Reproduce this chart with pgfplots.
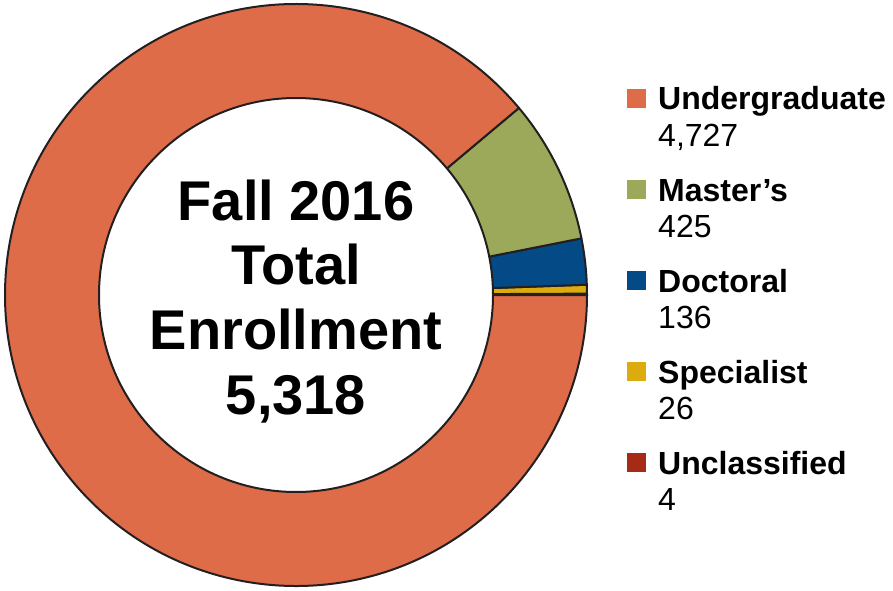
\documentclass[border=0pt]{standalone}
\usepackage{fontspec}
\setmainfont{Liberation Sans}
\usepackage{pgfplots}
\usepackage{pgfplotstable}
\pgfplotsset{compat=1.18}
\definecolor{cUnder}{HTML}{DE6C49}
\definecolor{cMaster}{HTML}{9CA85A}
\definecolor{cDoc}{HTML}{034A87}
\definecolor{cSpec}{HTML}{DCAC0F}
\definecolor{cUncl}{HTML}{A62B17}
\definecolor{edge}{HTML}{231F20}
\newcommand\legfont{\bfseries\fontsize{32}{38}\selectfont}
\newcommand\numfont{\fontsize{32}{38}\selectfont}
\newcommand\cenfont{\bfseries\fontsize{56}{64}\selectfont}
\pgfplotstableread{
name value color
Undergraduate 4727 cUnder
Master’s 425 cMaster
Doctoral 136 cDoc
Specialist 26 cSpec
Unclassified 4 cUncl
}\datatable
\begin{document}
\begin{tikzpicture}
\begin{axis}[x=1pt,y=1pt,xmin=0,xmax=893,ymin=0,ymax=590,hide axis,clip=false,scale only axis]
\coordinate (LL) at (rel axis cs:0,0);
\coordinate (UR) at (rel axis cs:1,1);
\pgfplotsextra{%
  \def\total{0}%
  \pgfplotsforeachungrouped \i in {0,1,2,3,4}{%
    \pgfplotstablegetelem{\i}{value}\of\datatable
    \pgfmathsetmacro\total{\total+\pgfplotsretval}%
  }%
  \def\cum{0}%
  \pgfplotsforeachungrouped \i in {4,3,2,1,0}{%
    \pgfplotstablegetelem{\i}{value}\of\datatable
    \pgfmathsetmacro\aE{\cum+360*(\pgfplotsretval/\total)}%
    \pgfplotstablegetelem{\i}{color}\of\datatable
    \edef\col{\pgfplotsretval}%
    \edef\act{\noexpand\filldraw[fill=\col, draw=edge, line width=2pt, line join=round]
      (axis cs:{296+291*cos(\cum)},{295+291*sin(\cum)})
      arc[start angle=\cum, end angle=\aE, radius=291pt]
      -- (axis cs:{296+197*cos(\aE)},{295+197*sin(\aE)})
      arc[start angle=\aE, end angle=\cum, radius=197pt] -- cycle;}%
    \act
    \let\cum\aE
  }%
  \pgfplotsforeachungrouped \i in {0,1,2,3,4}{%
    \pgfmathsetmacro\yc{590-98.5-91*\i}%
    \pgfplotstablegetelem{\i}{color}\of\datatable
    \edef\col{\pgfplotsretval}%
    \pgfplotstablegetelem{\i}{name}\of\datatable
    \edef\nm{\pgfplotsretval}%
    \pgfplotstablegetelem{\i}{value}\of\datatable
    \edef\vl{\pgfplotsretval}%
    \edef\act{\noexpand\fill[\col] (axis cs:627,{\yc-9.5}) rectangle (axis cs:646,{\yc+9.5});
      \noexpand\node[anchor=base west, inner sep=0pt, font=\noexpand\legfont] at (axis cs:658,{\yc-11.5}) {\nm};
      \noexpand\node[anchor=base west, inner sep=0pt, font=\noexpand\numfont] at (axis cs:658,{\yc-47.5}) {\noexpand\pgfmathprintnumber[assume math mode=true,1000 sep={,}]{\vl}};}%
    \act
  }%
}
\node[anchor=base, inner sep=0pt, font=\cenfont] at (axis cs:296,370) {Fall 2016};
\node[anchor=base, inner sep=0pt, font=\cenfont] at (axis cs:296,305.5) {Total};
\node[anchor=base, inner sep=0pt, font=\cenfont] at (axis cs:296,241) {Enrollment};
\node[anchor=base, inner sep=0pt, font=\cenfont] at (axis cs:296,176) {5,318};
\end{axis}
\pgfresetboundingbox
\useasboundingbox (LL) rectangle (UR);
\end{tikzpicture}
\end{document}
